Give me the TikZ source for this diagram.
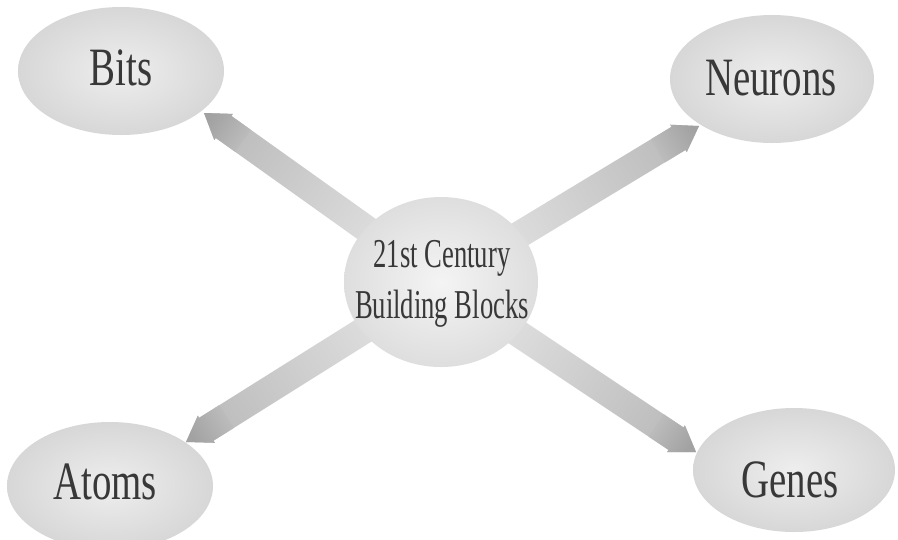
\documentclass[tikz,border=0pt]{standalone}
\usepackage{fontspec}
\newfontfamily\outerfont[FakeStretch=0.72]{Liberation Serif}
\newfontfamily\innerfont[FakeStretch=0.65]{Liberation Serif}
\usetikzlibrary{calc,shapes.geometric,backgrounds}
\definecolor{ink}{HTML}{383838}
\definecolor{blobedge}{HTML}{D7D7D7}
\definecolor{blobmid}{HTML}{EEEEEE}
\definecolor{hubedge}{HTML}{DEDEDE}
\definecolor{hubmid}{HTML}{F4F4F4}
\definecolor{shaftlight}{HTML}{E6E6E6}
\definecolor{shaftdark}{HTML}{BEBEBE}
\definecolor{headfill}{HTML}{A2A2A2}
\begin{document}
\begin{tikzpicture}[x=1pt,y=-1pt,
  blob/.style={ellipse, draw=none, inner sep=0pt, inner color=blobmid, outer color=blobedge},
  hubstyle/.style={ellipse, draw=none, inner sep=0pt, inner color=hubmid, outer color=hubedge},
  outerlabel/.style={text=ink, font=\outerfont\fontsize{54}{60}\selectfont, inner sep=0pt, anchor=base},
  innerlabel/.style={text=ink, font=\innerfont\fontsize{41}{51}\selectfont, inner sep=0pt, anchor=base, align=center}]
\useasboundingbox (0,0) rectangle (898,539);

% outer ellipses
\node[blob, minimum width=206pt, minimum height=128pt] (bits) at (121,71) {};
\node[blob, minimum width=204pt, minimum height=128pt] (neurons) at (772,79) {};
\node[blob, minimum width=206pt, minimum height=128pt] (atoms) at (110,486) {};
\node[blob, minimum width=202pt, minimum height=124pt] (genes) at (794,470) {};
% centre
\node[hubstyle, minimum width=194pt, minimum height=170pt] (hub) at (441,282) {};

% labels
\node[outerlabel] (bitstext) at (121,85) {Bits};
\node[outerlabel] (neuronstext) at (771,95) {Neurons};
\node[outerlabel] (atomstext) at (105,499) {Atoms};
\node[outerlabel] (genestext) at (790,497) {Genes};
\node[innerlabel] (hubtext) at (442,318) {21st Century\\Building Blocks};

% arrow tips (free ends touching the ellipses)
\coordinate (tb) at (204,113);
\coordinate (tn) at (699,126);
\coordinate (ta) at (186,442);
\coordinate (tg) at (696,452);

\begin{scope}[on background layer]
\fill[white] (0,0) rectangle (898,539);
\foreach \tip/\ang in {tb/54.6, tn/-58.9, ta/121.8, tg/-123.8}{
  \coordinate (hb) at ($(\tip)!24pt!(hub.center)$);
  \coordinate (hd) at ($(\tip)!48pt!(hub.center)$);
  \shade[top color=shaftdark, bottom color=shaftlight, shading angle=\ang]
    ($(hub.center)!13.5pt!90:(\tip)$) -- ($(hb)!13.5pt!90:(\tip)$)
    -- ($(hb)!16pt!90:(\tip)$) -- (\tip) -- ($(hb)!16pt!-90:(\tip)$)
    -- ($(hb)!13.5pt!-90:(\tip)$) -- ($(hub.center)!13.5pt!-90:(\tip)$) -- cycle;
  \shade[top color=headfill, bottom color=shaftdark, shading angle=\ang]
    ($(hd)!13.5pt!90:(\tip)$) -- ($(hb)!13.5pt!90:(\tip)$)
    -- ($(hb)!16pt!90:(\tip)$) -- (\tip) -- ($(hb)!16pt!-90:(\tip)$)
    -- ($(hb)!13.5pt!-90:(\tip)$) -- ($(hd)!13.5pt!-90:(\tip)$) -- cycle;
}
\end{scope}
\end{tikzpicture}
\end{document}
